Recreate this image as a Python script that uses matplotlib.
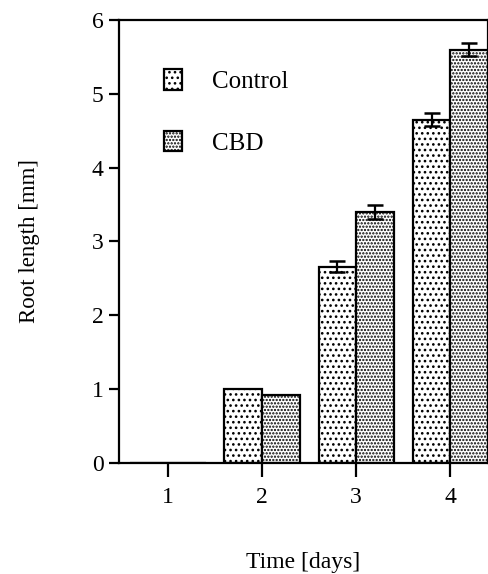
import numpy as np
import matplotlib
matplotlib.use("Agg")
import matplotlib.pyplot as plt

plt.rcParams['font.family'] = ['Liberation Serif', 'DejaVu Serif']
plt.rcParams['hatch.linewidth'] = 1.1

days = [1, 2, 3, 4]
day_labels = ['1', '2', '3', '4']
control = [0.0, 1.0, 2.66, 4.65]
control_err = [0.0, 0.0, 0.07, 0.09]
cbd = [0.0, 0.92, 3.40, 5.60]
cbd_err = [0.0, 0.0, 0.10, 0.09]

fig = plt.figure(figsize=(4.89, 5.74), dpi=100)
ax = fig.add_axes([0.2434, 0.1934, 0.7546, 0.7718])

x = np.array(days, dtype=float)
w = 0.40
ax.bar(x - w / 2, control, width=w, color='white', edgecolor='black',
       linewidth=1.6, hatch='...', label='Control')
ax.bar(x + w / 2, cbd, width=w, color='white', edgecolor='black',
       linewidth=1.6, hatch='.....', label='CBD')

# error bars only where there is a value
ce = np.array(control_err)
be = np.array(cbd_err)
m = ce > 0
ax.errorbar(x[m] - w / 2, np.array(control)[m], yerr=ce[m], fmt='none',
            ecolor='black', elinewidth=1.6, capsize=5.5, capthick=1.8)
m = be > 0
ax.errorbar(x[m] + w / 2, np.array(cbd)[m], yerr=be[m], fmt='none',
            ecolor='black', elinewidth=1.6, capsize=5.5, capthick=1.8)

ax.set_xlim(0.48, 4.40)
ax.set_ylim(0, 6)
ax.set_xticks(days)
ax.set_xticklabels(day_labels)
ax.set_yticks(range(0, 7))
ax.tick_params(axis='both', direction='out', width=1.6, labelsize=17)
ax.tick_params(axis='y', length=7, pad=4)
ax.tick_params(axis='x', length=10, pad=7)
for s in ax.spines.values():
    s.set_linewidth(1.6)

ax.set_ylabel('Root length [mm]', fontsize=16.5, labelpad=37)
ax.set_xlabel('Time [days]', fontsize=17, labelpad=32)

ax.legend(loc='upper left', bbox_to_anchor=(0.06, 0.94), frameon=False,
          fontsize=18, handlelength=0.75, handleheight=0.9,
          labelspacing=1.5, handletextpad=1.2)

fig.savefig('out.png', dpi=100)
